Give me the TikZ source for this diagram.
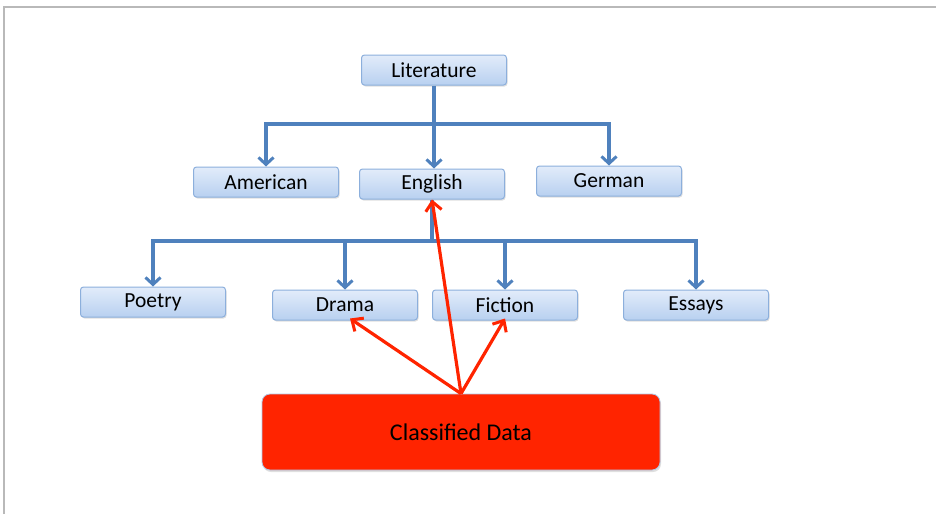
\documentclass[tikz,border=0pt]{standalone}
\usepackage{fontspec}
\setmainfont{Carlito}
\usetikzlibrary{arrows.meta,shadows}
\definecolor{linkblue}{RGB}{79,129,189}
\definecolor{boxtop}{RGB}{226,236,250}
\definecolor{boxbot}{RGB}{184,208,240}
\definecolor{boxedge}{RGB}{140,175,220}
\definecolor{hotred}{RGB}{255,36,0}
\definecolor{framegray}{RGB}{185,185,185}
\tikzset{
  cat/.style={draw=boxedge, line width=1pt, rounded corners=3pt,
    top color=boxtop, bottom color=boxbot,
    minimum width=145pt, minimum height=30pt, inner sep=0pt,
    font=\fontsize{21.5}{23}\selectfont,
    drop shadow={shadow xshift=1pt, shadow yshift=-1.5pt, opacity=0.25}},
  tree/.style={draw=linkblue, line width=3.5pt, -{Straight Barb[length=7pt,width=15pt,line width=3pt]}},
  trunk/.style={draw=linkblue, line width=3.5pt},
  hit/.style={draw=hotred, line width=3.2pt, -{Straight Barb[length=9pt,width=16pt,line width=3pt]}},
}
\begin{document}
\begin{tikzpicture}[x=1pt,y=-1pt]
\useasboundingbox (0,0) rectangle (936,514);
% page frame
\draw[framegray, line width=1.5pt] (4,514) -- (4,7) -- (936,7);
% categories
\node[cat] (lit) at (434,70) {Literature};
\node[cat] (ame) at (266,182) {American};
\node[cat] (eng) at (432,184) {English};
\node[cat] (ger) at (609,181) {German};
\node[cat] (poe) at (153,302) {Poetry};
\node[cat] (dra) at (345,305) {Drama};
\node[cat] (fic) at (505,305) {Fiction};
\node[cat] (ess) at (696,305) {Essays};
\node[draw=boxedge!70, line width=0.8pt, fill=hotred, rounded corners=8pt,
      minimum width=398pt, minimum height=76pt,
      font=\fontsize{24}{27}\selectfont,
      drop shadow={shadow xshift=1pt, shadow yshift=-2pt, opacity=0.25}] (data) at (461,432) {Classified Data};
% hierarchy links
\coordinate (j1) at (434,124);
\coordinate (j2) at (432,241);
\draw[trunk] (lit.south) -- (j1);
\draw[tree] (j1) -| (ame.north);
\draw[tree] (j1) -- (j1 |- eng.north);
\draw[tree] (j1) -| (ger.north);
\draw[trunk] (eng.south) -- (j2);
\draw[tree] (j2) -| (poe.north);
\draw[tree] (j2) -| (dra.north);
\draw[tree] (j2) -| (fic.north);
\draw[tree] (j2) -| (ess.north);
% classification links
\draw[hit] (data.north) -- (eng.south);
\draw[hit] (data.north) -- ([xshift=5pt,yshift=2pt]dra.south);
\draw[hit] (data.north) -- ([yshift=2pt]fic.south);
\end{tikzpicture}
\end{document}
